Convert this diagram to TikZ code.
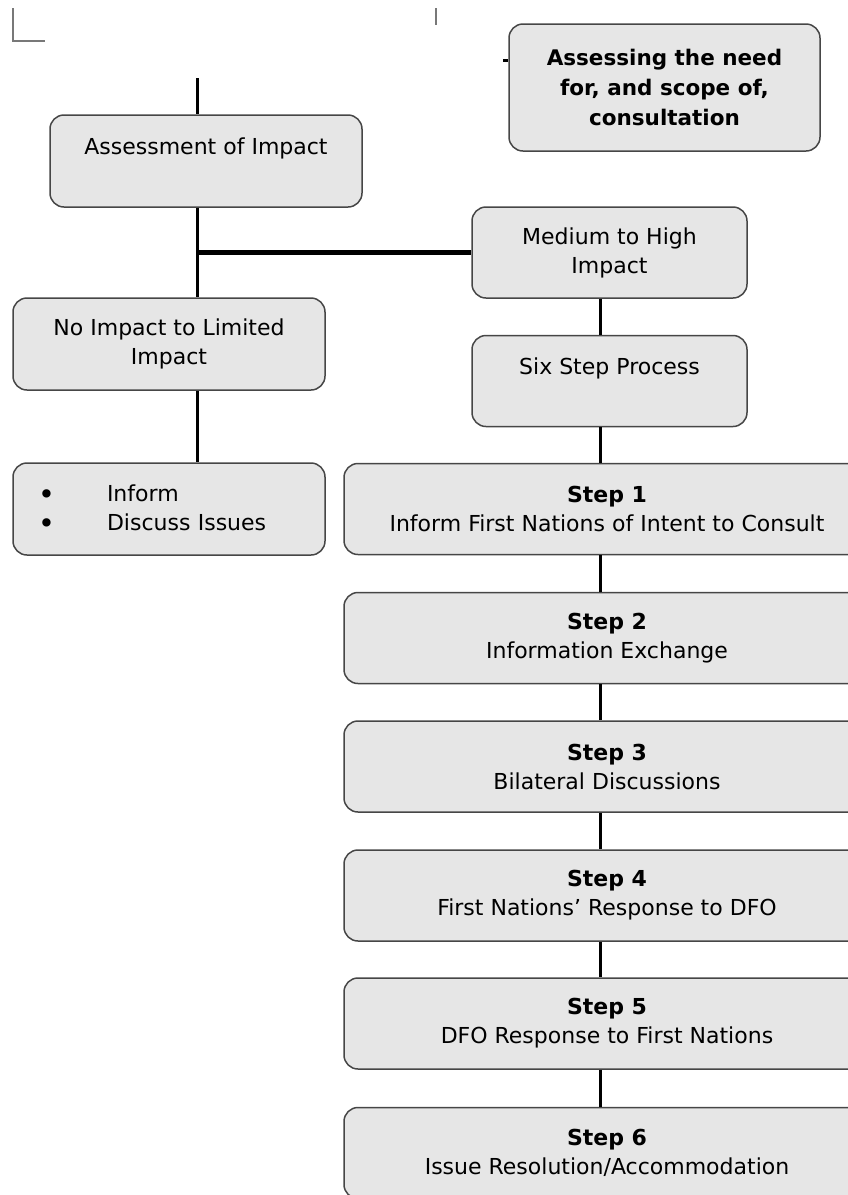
\documentclass[tikz,border=0pt]{standalone}
\usepackage{fontspec}
\setmainfont{DejaVu Sans}
\definecolor{boxfill}{RGB}{230,230,230}
\definecolor{boxline}{RGB}{70,70,70}
\definecolor{markgray}{RGB}{120,120,120}
\newcommand{\bigbullet}{\makebox[0pt]{\raisebox{-2.5pt}{\scalebox{1.3}{•}}}}
\begin{document}
\begin{tikzpicture}[x=1pt,y=-1pt,
  box/.style={draw=boxline, line width=1.5pt, rounded corners=14pt, fill=boxfill,
    align=center, inner sep=0pt, font=\fontsize{22}{29}\selectfont},
  wide/.style={box, minimum width=312pt, minimum height=92pt},
  mid/.style={box, minimum width=275pt, minimum height=91pt},
  stepbox/.style={box, minimum width=526pt, minimum height=91pt},
  link/.style={line width=3pt, black},
  crop/.style={line width=1.2pt, markgray}]
\useasboundingbox (0,0) rectangle (847,1195);

% page marks
\draw[crop] (13,8) -- (13,41) -- (45,41);
\draw[crop] (436,8) -- (436,25);
\draw[line width=3pt] (503,60) -- (508,60);

% title box
\node[box, minimum width=311pt, minimum height=127pt, font=\bfseries\fontsize{21.5}{30}\selectfont]
  (need) at (664.5,87.5) {Assessing the need\\for, and scope of,\\consultation};

% left branch
\node[wide] (aoi) at (206,161) {Assessment of Impact\\\mbox{}};
\node[wide] (noimp) at (169,344) {No Impact to Limited\\Impact};
\node[wide, text width=280pt, align=left] (inf) at (169,509)
  {\hspace*{18pt}\bigbullet\hspace*{60pt}Inform\\
   \hspace*{18pt}\bigbullet\hspace*{60pt}Discuss Issues};

% right branch
\node[mid] (med) at (609.5,252.5) {Medium to High\\Impact};
\node[mid] (six) at (609.5,381) {Six Step Process\\\mbox{}};

\node[stepbox] (s1) at (607,509)    {\textbf{Step 1}\\Inform First Nations of Intent to Consult};
\node[stepbox] (s2) at (607,638)    {\textbf{Step 2}\\Information Exchange};
\node[stepbox] (s3) at (607,766.5)  {\textbf{Step 3}\\Bilateral Discussions};
\node[stepbox] (s4) at (607,895.5)  {\textbf{Step 4}\\First Nations’ Response to DFO};
\node[stepbox] (s5) at (607,1023.5) {\textbf{Step 5}\\DFO Response to First Nations};
\node[stepbox] (s6) at (607,1153)   {\textbf{Step 6}\\Issue Resolution/Accommodation};

% spines
\coordinate (lx) at (197,0);
\coordinate (rx) at (600,0);
\coordinate (top) at (197,78);

% connectors
\draw[link] (top) -- (aoi.north -| lx);
\draw[link] (aoi.south -| lx) -- (noimp.north -| lx);
\draw[link, line width=4.5pt] (med.west -| lx) -- (med.west);
\draw[link] (noimp.south -| lx) -- (inf.north -| lx);
\draw[link] (med.south -| rx) -- (six.north -| rx);
\draw[link] (six.south -| rx) -- (s1.north -| rx);
\draw[link] (s1.south -| rx) -- (s2.north -| rx);
\draw[link] (s2.south -| rx) -- (s3.north -| rx);
\draw[link] (s3.south -| rx) -- (s4.north -| rx);
\draw[link] (s4.south -| rx) -- (s5.north -| rx);
\draw[link] (s5.south -| rx) -- (s6.north -| rx);
\end{tikzpicture}
\end{document}
